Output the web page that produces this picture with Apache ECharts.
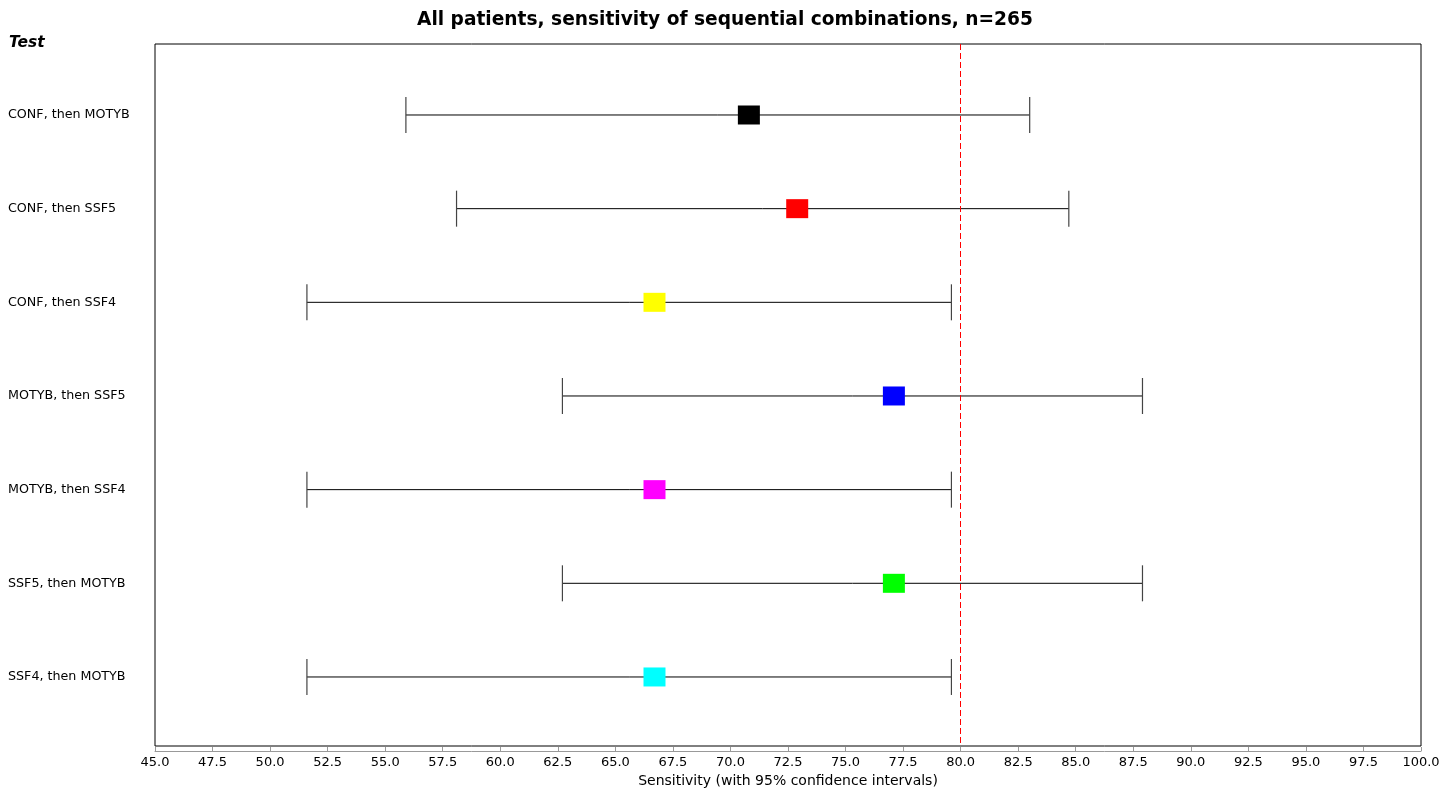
<!DOCTYPE html>
<html>
<head>
<meta charset="utf-8">
<script src="https://cdn.jsdelivr.net/npm/echarts@6/dist/echarts.min.js"></script>
<style>html,body{margin:0;padding:0;background:#fff}#c{width:1456px;height:791px}</style>
</head>
<body>
<div id="c"></div>
<script>
const categories = ["CONF, then MOTYB","CONF, then SSF5","CONF, then SSF4","MOTYB, then SSF5","MOTYB, then SSF4","SSF5, then MOTYB","SSF4, then MOTYB"];
const estimates = [70.8, 72.9, 66.7, 77.1, 66.7, 77.1, 66.7];
const lower = [55.9, 58.1, 51.6, 62.7, 51.6, 62.7, 51.6];
const upper = [83.0, 84.7, 79.6, 87.9, 79.6, 87.9, 79.6];
const referenceValue = 80;
const markerColors = ["#000000","#ff0000","#ffff00","#0000ff","#ff00ff","#00ff00","#00ffff"];

const rowPos = categories.map((c, i) => i + 1);
const ciData = categories.map((c, i) => [lower[i], upper[i], rowPos[i]]);
const ptData = categories.map((c, i) => ({value: [estimates[i], rowPos[i]], itemStyle: {color: markerColors[i], opacity: 1}}));

const chart = echarts.init(document.getElementById('c'), null, {renderer: 'canvas'});
chart.setOption({
  animation: false,
  backgroundColor: '#fff',
  title: {
    text: 'All patients, sensitivity of sequential combinations, n=265',
    left: 412, top: 6,
    textStyle: {fontFamily: 'DejaVu Sans, sans-serif', fontSize: 18.6, fontWeight: 'bold', color: '#000'}
  },
  graphic: [{
    type: 'text', left: 9, top: 35,
    style: {text: 'Test', font: 'italic bold 15.5px "DejaVu Sans", sans-serif', fill: '#000'}
  }],
  grid: {left: 155, right: 35, top: 44, bottom: 45, outerBoundsMode: 'none', containLabel: false,
         show: true, borderColor: '#000', borderWidth: 1, backgroundColor: '#fff'},
  xAxis: {
    type: 'value', min: 45, max: 100, interval: 2.5, offset: 5,
    name: 'Sensitivity (with 95% confidence intervals)', nameLocation: 'middle', nameGap: 21,
    nameTextStyle: {fontFamily: 'DejaVu Sans, sans-serif', fontSize: 14, color: '#000'},
    axisLine: {show: true, lineStyle: {color: '#999', width: 1}},
    axisTick: {show: true, length: 4, inside: true, lineStyle: {color: '#999'}},
    splitLine: {show: false},
    axisLabel: {formatter: v => v.toFixed(1), fontFamily: 'DejaVu Sans, sans-serif', fontSize: 13, color: '#000', margin: 5, showMaxLabel: true}
  },
  yAxis: {
    type: 'value', inverse: true, min: 0.242, max: 7.737,
    axisLine: {show: false}, axisTick: {show: false}, splitLine: {show: false},
    axisLabel: {
      customValues: rowPos,
      formatter: v => categories[Math.round(v) - 1] || '',
      align: 'left', margin: 147,
      fontFamily: 'DejaVu Sans, sans-serif', fontSize: 12.7, color: '#000'
    }
  },
  series: [
    {
      type: 'custom',
      data: ciData,
      encode: {x: [0, 1], y: 2},
      renderItem: function (params, api) {
        const y = api.value(2);
        const p1 = api.coord([api.value(0), y]);
        const p2 = api.coord([api.value(1), y]);
        const h = 18;
        return {
          type: 'group',
          children: [
            {type: 'line', shape: {x1: p1[0], y1: p1[1], x2: p2[0], y2: p2[1]}, style: {stroke: '#000', lineWidth: 1}},
            {type: 'line', shape: {x1: p1[0], y1: p1[1] - h, x2: p1[0], y2: p1[1] + h}, style: {stroke: '#444', lineWidth: 1.2}},
            {type: 'line', shape: {x1: p2[0], y1: p2[1] - h, x2: p2[0], y2: p2[1] + h}, style: {stroke: '#444', lineWidth: 1.2}}
          ]
        };
      },
      z: 2
    },
    {
      type: 'scatter',
      data: ptData,
      symbol: 'rect',
      symbolSize: [22, 19],
      itemStyle: {opacity: 1},
      z: 4,
      markLine: {
        silent: true, symbol: 'none', label: {show: false},
        lineStyle: {color: '#ff0000', type: [6, 3], width: 1},
        data: [{xAxis: referenceValue}]
      }
    }
  ]
});
</script>
</body>
</html>
